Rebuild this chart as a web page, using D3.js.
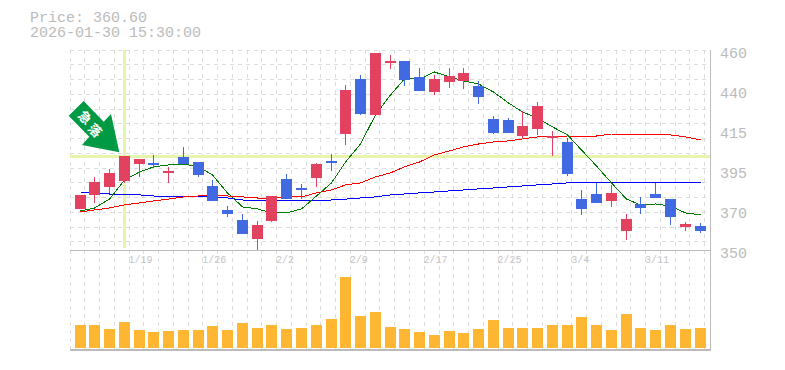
<!DOCTYPE html>
<html><head><meta charset="utf-8">
<script src="https://cdn.jsdelivr.net/npm/d3@7"></script>
<style>html,body{margin:0;padding:0;background:#fff}svg{display:block}</style>
</head><body><svg id="c" width="785" height="370"></svg>
<script>
const dates=["1/14","1/15","1/16","1/19","1/20","1/21","1/22","1/23","1/26","1/27","1/28","1/29","1/30","2/2","2/3","2/4","2/5","2/6","2/9","2/10","2/12","2/13","2/16","2/17","2/18","2/19","2/20","2/24","2/25","2/26","2/27","3/2","3/3","3/4","3/5","3/6","3/9","3/10","3/11","3/12","3/13","3/16","3/17"];
const labeledDates=["1/19","1/26","2/2","2/9","2/17","2/25","3/4","3/11"];
const openP=[372.6,380.3,384.7,388,397.3,397.9,392.9,401.2,398.4,385.2,372,366.5,356.1,366,389,384.1,389.6,399,413.8,444.1,424.3,452.9,454,445.2,436.9,442.4,443,440.2,422.1,421.5,412.7,416.6,412.2,409.4,378,380.8,377,360.5,375.3,380.8,378,362.7,363.2];
const closeP=[380.3,387.4,392.4,401.7,400.1,396.8,393.3,397.3,391.3,377,369.8,358.8,363.8,379.7,378,383,397.3,397.9,438,424.8,458.4,454,443.5,437.5,444.1,445.7,447.4,434.2,414.4,414.4,418.2,429.2,412.7,391.8,372.6,375.9,381.4,367,373.1,378.6,368.2,364.3,360.5];
const highP=[380.3,390.2,394.6,401.7,400.1,402.3,395.7,406.7,398.4,388.5,374.2,369.8,366,379.7,391.8,386.3,397.9,402.8,440.8,446.3,458.4,457.3,454,450.1,446.3,450.1,450.1,443,423.7,422.6,426.5,431.4,415.5,411.6,383,386.9,385.8,369.8,379.2,386.9,378,365.4,364.9];
const lowP=[372.6,375.9,381.4,386.9,390.2,395.1,386.9,397.3,390.2,377,368.2,358.8,350,365.4,378,378,384.7,393.5,407.8,424.3,424.3,449.6,440.2,437.5,435.3,439.1,438.6,430.3,413.8,414.4,411.1,413.3,401.7,390.7,369.3,375.9,373.7,355.5,369.8,378.6,363.8,360.5,359.4];
const maShort=[371.5,373.1,378,388.5,392.9,395.7,396.8,397.3,395.7,391.3,381.4,373.7,372.6,370.4,370.4,372.6,379.7,386.9,398.4,408.3,424.3,435.3,444.1,444.1,447.9,445.2,443,441.3,436.9,430.9,425.9,422.6,417.7,413.3,405,396.2,386.9,378,374.8,375.3,374.2,370.4,369.3];
const maMid=[370.9,372,373.1,374.8,375.9,377,378,379.2,379.7,380.3,379.7,379.2,378.6,378.6,379.2,379.2,381.4,383,385.8,386.9,390.2,392.4,395.7,398.4,402.3,404.5,406.7,408.3,409.4,410,411.1,412.2,412.2,412.7,412.7,412.7,413.8,413.8,413.8,413.8,413.3,412.2,410.5];
const maLong=[381.9,381.4,380.8,380.8,380.3,379.7,379.2,379.2,379.2,379.2,378.6,377.5,377,377,377,377,377,377.5,378,378.6,379.2,380.3,380.8,381.4,381.9,382.5,383,383.6,384.1,384.7,385.2,385.8,386.3,386.9,386.9,386.9,386.9,386.9,386.9,386.9,387.1,387.1,387.1];
const volume=[23,23,19,26,18,16,17,18,18,22,18,25,20,23,19,20,23,29,71,32,36,21,19,16,13,17,15,19,28,20,20,20,23,23,31,23,18,34,20,18,23,19,20];
const priceTicks=[460,438,416,394,372,350];
const priceTickLabels=["460","440","415","395","370","350"];
const priceLine=401.7, markDate="1/19";
const infoLines=["Price: 360.60","2026-01-30 15:30:00"];
const arrowText=["急","落"];

const svg=d3.select("#c");
const L=70,R=710,T=50,B=250,VB=350,step=14.76;
const x=d3.scalePoint().domain(dates).range([80.1,700.02]);
const px=d=>Math.floor(x(d));
const y=d3.scaleLinear().domain([350,460]).range([B,T]);
const v=d3.scaleLinear().domain([0,100]).range([348,248]);
const G="#bbbbbb",RED="#e2425f",BLUE="#4169e1";

// grid
const gridX=d3.range(0,44).map(i=>L+i*step), gridY=d3.range(0,14).map(i=>T+i*step);
const grid=svg.append("g").attr("stroke","#dcdcdc").attr("stroke-dasharray","4 4").attr("shape-rendering","crispEdges");
grid.selectAll(".gx").data(gridX).join("line").attr("x1",d=>Math.floor(d)+.5).attr("x2",d=>Math.floor(d)+.5).attr("y1",T).attr("y2",VB);
grid.selectAll(".gy").data(gridY).join("line").attr("x1",L).attr("x2",R).attr("y1",d=>Math.floor(d)+.5).attr("y2",d=>Math.floor(d)+.5);

// highlight
svg.append("line").attr("x1",L).attr("x2",R).attr("y1",y(priceLine)+.5).attr("y2",y(priceLine)+.5).attr("stroke","#e6f5ab").attr("stroke-width",3);
svg.append("line").attr("x1",px(markDate)+.5).attr("x2",px(markDate)+.5).attr("y1",T).attr("y2",B-2).attr("stroke","#e6f5ab").attr("stroke-width",3);

// frame
const frame=svg.append("g").attr("stroke",G).attr("shape-rendering","crispEdges");
frame.append("line").attr("x1",L).attr("x2",R+1).attr("y1",B+.5).attr("y2",B+.5);
frame.append("line").attr("x1",L).attr("x2",R+1).attr("y1",VB).attr("y2",VB).attr("stroke-width",2);
frame.append("line").attr("x1",R+.5).attr("x2",R+.5).attr("y1",T).attr("y2",VB);

// MAs
const line=d3.line().x((d,i)=>px(dates[i])+.5).y(d=>y(d));
[[maLong,"#0000ff",1],[maMid,"#ff0000",1],[maShort,"#007a00",1]].forEach(([s,c,w])=>{
  svg.append("path").attr("d",line(s)).attr("fill","none").attr("stroke",c).attr("stroke-width",w).attr("shape-rendering","crispEdges");
});

// candles
const colorOf=i=>closeP[i]>=openP[i]?RED:BLUE;
const cg=svg.append("g").attr("shape-rendering","crispEdges");
cg.selectAll(".w").data(dates).join("rect")
 .attr("x",d=>px(d)).attr("width",1)
 .attr("y",(d,i)=>y(highP[i])).attr("height",(d,i)=>y(lowP[i])-y(highP[i])).attr("fill",(d,i)=>colorOf(i));
cg.selectAll(".b").data(dates).join("rect")
 .attr("x",d=>px(d)-5).attr("width",11)
 .attr("y",(d,i)=>y(Math.max(openP[i],closeP[i])))
 .attr("height",(d,i)=>Math.max(2,Math.abs(y(openP[i])-y(closeP[i])))).attr("fill",(d,i)=>colorOf(i));

// volume
svg.append("g").attr("shape-rendering","crispEdges").selectAll("rect").data(dates).join("rect")
 .attr("x",d=>px(d)-5).attr("width",11)
 .attr("y",(d,i)=>v(volume[i])).attr("height",(d,i)=>v(0)-v(volume[i])).attr("fill","#ffb733");

// axes
const yAxis=d3.axisRight(y).tickValues(priceTicks).tickFormat((d,i)=>priceTickLabels[i]).tickSize(0).tickPadding(10);
const ya=svg.append("g").attr("transform",`translate(${R},3)`).call(yAxis);
ya.select(".domain").remove();
ya.selectAll("text").attr("font-family","'Liberation Mono',monospace").attr("font-size",15).attr("fill",G);
const xAxis=d3.axisBottom(x).tickValues(labeledDates).tickSize(0).tickPadding(0);
const xa=svg.append("g").attr("transform",`translate(0,${B+6})`).call(xAxis);
xa.select(".domain").remove();
xa.selectAll("text").attr("text-anchor","start").attr("x",3.5).attr("font-family","'Liberation Mono',monospace").attr("font-size",10).attr("fill","#c4c4c4");

// info
svg.selectAll(".info").data(infoLines).join("text").attr("x",30).attr("y",(d,i)=>22+i*15)
 .attr("font-family","'Liberation Mono',monospace").attr("font-size",15).attr("fill",G).text(d=>d);

// arrow annotation
const ag=svg.append("g");
ag.append("polygon").attr("points","83.7,101 68.7,115.7 89.3,136.7 82,145 119.3,152.3 111,114 103.7,121.7").attr("fill","#009944");
arrowText.forEach((t,i)=>{
  ag.append("text").attr("transform",`translate(${85.5+i*10},${117+i*13}) rotate(45)`).attr("text-anchor","middle").attr("dominant-baseline","central")
    .attr("font-family","'Noto Sans CJK JP'").attr("font-weight",700).attr("font-size",13).attr("fill","#fff").text(t);
});
</script></body></html>
